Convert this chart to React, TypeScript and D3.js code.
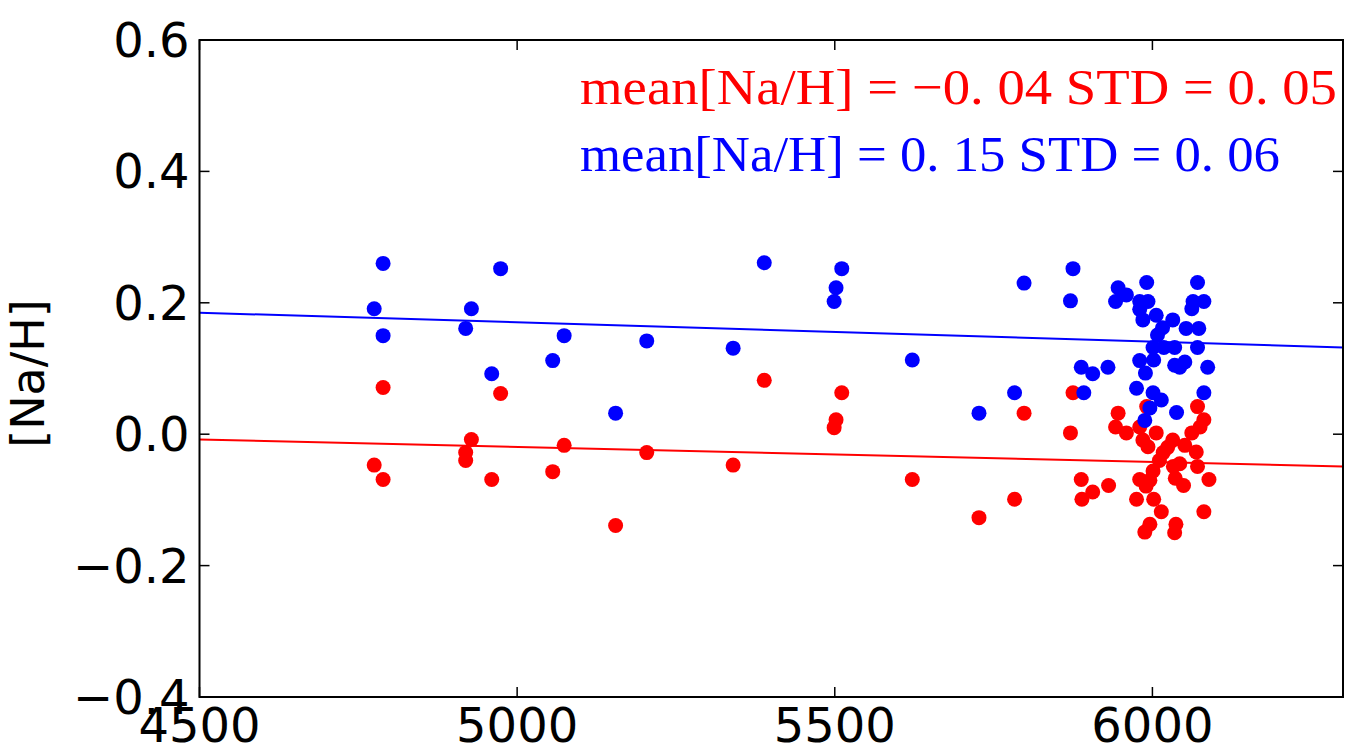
import React from "react";
import * as d3 from "d3";

// ---- data (Teff vs [Na/H]) ----
const blueX = [4775, 4789, 4789, 4919, 4928, 4960, 4974, 5056, 5074, 5155, 5204, 5340, 5389, 5499, 5502, 5511, 5622, 5727, 5783, 5798, 5871, 5875, 5888, 5892, 5906, 5930,
  5991, 6071, 5946, 5959, 5942, 5980, 5993, 6064, 6081, 5980, 6062, 6006, 5985, 6032, 6016, 6053, 6073, 6008, 6001, 6018, 6035, 6071, 5980, 6002, 6051, 6035, 6043, 6087, 5989, 5975, 6001, 6014, 6081, 5996, 6038, 5988];
const blueY = [0.191, 0.260, 0.150, 0.161, 0.191, 0.092, 0.252, 0.112, 0.150, 0.032, 0.142, 0.131, 0.261, 0.202, 0.223, 0.252, 0.113, 0.032, 0.063, 0.230, 0.203, 0.252, 0.102, 0.063, 0.092, 0.102,
  0.231, 0.231, 0.223, 0.212, 0.202, 0.202, 0.202, 0.202, 0.202, 0.190, 0.191, 0.181, 0.174, 0.174, 0.162, 0.161, 0.161, 0.151, 0.132, 0.132, 0.132, 0.132, 0.112, 0.113, 0.110, 0.105, 0.102, 0.102, 0.093, 0.070, 0.063, 0.052, 0.063, 0.040, 0.033, 0.021];

const redX = [4775, 4789, 4789, 4919, 4919, 4928, 4960, 4974, 5056, 5074, 5155, 5204, 5340, 5389, 5499, 5502, 5511, 5622, 5727, 5783, 5798, 5871, 5875, 5888, 5889, 5906, 5931,
  5946, 5991, 6071, 5942, 5959, 5980, 6081, 6075, 6062, 6006, 5985, 6032, 5993, 6017, 6051, 6069, 6011, 6071, 6033, 6001, 5980, 5996, 6036, 6049, 6089, 5990, 5975, 6002, 6014, 6081, 5996, 5988, 6037, 6035, 6024, 6043];
const redY = [-0.047, 0.071, -0.069, -0.028, -0.040, -0.008, -0.069, 0.062, -0.057, -0.017, -0.139, -0.028, -0.047, 0.082, 0.010, 0.022, 0.063, -0.069, -0.127, -0.099, 0.032, 0.002, 0.063, -0.069, -0.099, -0.088, -0.078,
  0.032, 0.042, 0.042, 0.011, 0.002, 0.011, 0.022, 0.011, 0.002, 0.002, -0.009, -0.009, -0.019, -0.028, -0.017, -0.027, -0.040, -0.049, -0.049, -0.056, -0.069, -0.070, -0.067, -0.078, -0.069, -0.079, -0.099, -0.099, -0.118, -0.118, -0.137, -0.149, -0.137, -0.150, -0.020, -0.045];

// fit lines endpoints
const fitX = [4500, 6300];
const blueFit = [0.185, 0.132];
const redFit = [-0.008, -0.049];

const xTicks = [4500, 5000, 5500, 6000];
const yTicks = [-0.4, -0.2, 0.0, 0.2, 0.4, 0.6];
const yTickLabels = ["\u22120.4", "\u22120.2", "0.0", "0.2", "0.4", "0.6"];

const redLabel = "mean[Na/H] = \u22120. 04  STD = 0. 05";
const blueLabel = "mean[Na/H] = 0. 15  STD = 0. 06";

export default function App() {
  const W = 1345, H = 751;
  const left = 199.5, right = 1343, top = 40, bottom = 697;
  const x = d3.scaleLinear().domain([4500, 6300]).range([left, right]);
  const y = d3.scaleLinear().domain([-0.4, 0.6]).range([bottom, top]);
  const line = d3.line<number>().x((_, i) => x(fitX[i])).y((d) => y(d));
  const tickLen = 10;
  const font = "'DejaVu Sans', sans-serif";
  return (
    <svg width={W} height={H} style={{ position: "absolute", left: 0, top: 0, background: "#fff" }}>
      <defs>
        <clipPath id="plotclip">
          <rect x={left} y={top} width={right - left} height={bottom - top} />
        </clipPath>
      </defs>
      <rect x={0} y={0} width={W} height={H} fill="#fff" />
      <g clipPath="url(#plotclip)">
        {redX.map((v, i) => (
          <circle key={"r" + i} cx={x(v)} cy={y(redY[i])} r={7.5} fill="#ff0000" />
        ))}
        {blueX.map((v, i) => (
          <circle key={"b" + i} cx={x(v)} cy={y(blueY[i])} r={7.5} fill="#0000ff" />
        ))}
        <path d={line(blueFit) || ""} stroke="#0000ff" strokeWidth={2} fill="none" />
        <path d={line(redFit) || ""} stroke="#ff0000" strokeWidth={2} fill="none" />
      </g>
      {/* ticks */}
      {xTicks.map((t) => (
        <g key={"xt" + t}>
          <line x1={x(t)} x2={x(t)} y1={bottom} y2={bottom - tickLen} stroke="#000" strokeWidth={1.5} />
          <line x1={x(t)} x2={x(t)} y1={top} y2={top + tickLen} stroke="#000" strokeWidth={1.5} />
          <text x={x(t)} y={bottom + 45} textAnchor="middle" fontFamily={font} fontSize={48} fill="#000">{t}</text>
        </g>
      ))}
      {yTicks.map((t, i) => (
        <g key={"yt" + t}>
          <line x1={left} x2={left + tickLen} y1={y(t)} y2={y(t)} stroke="#000" strokeWidth={1.5} />
          <line x1={right} x2={right - tickLen} y1={y(t)} y2={y(t)} stroke="#000" strokeWidth={1.5} />
          <text x={left - 10} y={y(t) + 17} textAnchor="end" fontFamily={font} fontSize={48} fill="#000">{yTickLabels[i]}</text>
        </g>
      ))}
      <rect x={left} y={top} width={right - left} height={bottom - top} fill="none" stroke="#000" strokeWidth={2} />
      <text transform={`translate(44, ${(top + bottom) / 2 + 5}) rotate(-90)`} textAnchor="middle" fontFamily={font} fontSize={46} fill="#000">[Na/H]</text>
      <text x={580} y={104} fontFamily="'Liberation Serif', 'DejaVu Serif', serif" fontSize={50} fill="#ff0000" textLength={757} lengthAdjust="spacingAndGlyphs">{redLabel}</text>
      <text x={580} y={171} fontFamily="'Liberation Serif', 'DejaVu Serif', serif" fontSize={50} fill="#0000ff" textLength={700} lengthAdjust="spacingAndGlyphs">{blueLabel}</text>
    </svg>
  );
}
